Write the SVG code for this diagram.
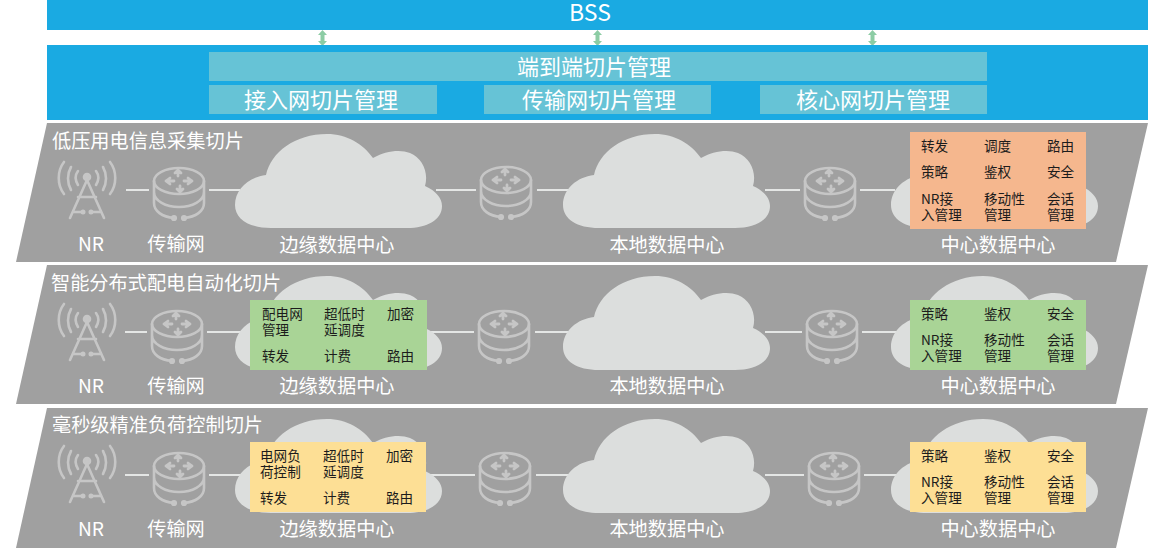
<svg xmlns="http://www.w3.org/2000/svg" xmlns:xlink="http://www.w3.org/1999/xlink" width="1156" height="553" viewBox="0 0 1156 553">
<style>
text{font-family:"Noto Sans CJK SC","Noto Sans",sans-serif}
.w{fill:#fff;text-anchor:middle}
.l{font-size:19.2px}
.t{fill:#fff;font-size:19.2px}
.m{font-size:22px}
.k{fill:#1c1c1c;font-size:13.6px}
.ln{stroke:#e4e6e5;stroke-width:2;fill:none}
.ic{stroke:#c6c6c6;stroke-width:2.600;fill:none;stroke-linecap:round;stroke-linejoin:round}
.band{fill:#a0a0a0}
.cloud{fill:#dcdedd}
.pane{fill:#66c3d6}
.blue{fill:#1aaae2}
</style>
<defs>
<path id="cl" class="cloud" d="M36 94C14 94 0 85 0 71C0 55 14 43 31 41C36 18 60 0 92 0C112 0 128 10 138 24C150 17 165 15 175 19C187 24 194 38 190 52C201 57 207 64 207 72C207 86 192 94 172 94Z"/>
<g id="ant" class="ic">
<circle cx="31" cy="15" r="3" fill="#c6c6c6"/>
<path d="M31 18L14 56M31 18L48 56M22 35H40M18 50H27M35 50H44"/>
<path d="M22 9C19 13 19 18 22 23M40 9C43 13 43 18 40 23M15 5C11 12 11 21 15 28M47 5C51 12 51 21 47 28M8 0C1 9 1 23 8 32M54 0C61 9 61 23 54 32"/>
<circle cx="27" cy="50" r="1.200" fill="#c6c6c6"/><circle cx="35" cy="50" r="1.200" fill="#c6c6c6"/>
</g>
<g id="rt" class="ic">
<ellipse cx="26" cy="14" rx="25" ry="13"/>
<path d="M1 14V36C1 44 9 50 21 51M51 14V36C51 44 43 50 31 51M1 25C1 34 13 40 26 40C39 40 51 34 51 25"/>
<circle cx="21" cy="51" r="1.800" fill="#c6c6c6"/><circle cx="31" cy="51" r="1.800" fill="#c6c6c6"/>
<path stroke-width="2.800" d="M13 14H21M13 14L17 11M13 14L17 17M31 14H39M39 14L35 11M39 14L35 17M25 9V4M22 6L25 3L28 6M27 19V24M24 22L27 25L30 22"/>
</g>
<path id="dbl" fill="#8ccca4" d="M0 5L4.500 0L9 5H6.500V11H9L4.500 16L0 11H2.500V5Z"/>
</defs>

<g id="bss"><rect class="blue" x="47" y="0" width="1101" height="30"/><text class="w" x="590" y="21" font-size="23">BSS</text></g>
<g id="connectors-top"><use xlink:href="#dbl" href="#dbl" x="318" y="30"/><use xlink:href="#dbl" href="#dbl" x="593" y="30"/><use xlink:href="#dbl" href="#dbl" x="868" y="30"/></g>
<g id="mgmt">
<rect class="blue" x="47" y="45" width="1101" height="75"/>
<g id="e2e"><rect class="pane" x="209" y="52" width="778" height="29"/><text class="w m" x="594" y="75">端到端切片管理</text></g>
<g id="ran"><rect class="pane" x="209" y="85" width="228" height="29"/><text class="w m" x="321" y="108">接入网切片管理</text></g>
<g id="tn"><rect class="pane" x="484" y="85" width="227" height="29"/><text class="w m" x="599" y="108">传输网切片管理</text></g>
<g id="cn"><rect class="pane" x="760" y="85" width="227" height="29"/><text class="w m" x="873" y="108">核心网切片管理</text></g>
</g>

<g id="bands">
<polygon class="band" points="47,123 1148,123 1116,262 16,262"/>
<polygon class="band" points="47,265 1148,265 1116,404 16,404"/>
<polygon class="band" points="47,408 1148,408 1116,548 16,548"/>
</g>

<g id="connectors" class="ln">
<path d="M126 190H149M209 190H240M436 190H476M537 190H570M765 190H800M860 190H895"/>
<path d="M125 332H147M207 332H250M427 332H474M535 332H570M765 332H802M862 332H910"/>
<path d="M125 475H149M209 475H250M425 475H475M536 475H570M765 475H804M864 475H910"/>
</g>

<g id="slice1">
<text class="t" x="52" y="148">低压用电信息采集切片</text>
<g id="s1-nr"><use xlink:href="#ant" href="#ant" x="56" y="162"/><text class="w l" x="91" y="251">NR</text></g>
<g id="s1-tn"><use xlink:href="#rt" href="#rt" x="153" y="167"/><text class="w l" x="176" y="251">传输网</text></g>
<g id="s1-edge"><use xlink:href="#cl" href="#cl" x="235" y="134"/><text class="w l" x="337" y="252">边缘数据中心</text></g>
<g id="s1-r2"><use xlink:href="#rt" href="#rt" x="480" y="166"/></g>
<g id="s1-local"><use xlink:href="#cl" href="#cl" x="563" y="134"/><text class="w l" x="667" y="252">本地数据中心</text></g>
<g id="s1-r3"><use xlink:href="#rt" href="#rt" x="804" y="167"/></g>
<g id="s1-core"><use xlink:href="#cl" href="#cl" x="891" y="134"/>
<rect x="910" y="132" width="176" height="97" fill="#f5b78e"/>
<g class="k"><text x="921" y="151">转发</text><text x="984" y="151">调度</text><text x="1047" y="151">路由</text><text x="921" y="177">策略</text><text x="984" y="177">鉴权</text><text x="1047" y="177">安全</text><text x="921" y="204">NR接</text><text x="921" y="220">入管理</text><text x="984" y="204">移动性</text><text x="984" y="220">管理</text><text x="1047" y="204">会话</text><text x="1047" y="220">管理</text></g>
<text class="w l" x="998" y="252">中心数据中心</text></g>
</g>

<g id="slice2">
<text class="t" x="51" y="290">智能分布式配电自动化切片</text>
<g id="s2-nr"><use xlink:href="#ant" href="#ant" x="56" y="304"/><text class="w l" x="91" y="393">NR</text></g>
<g id="s2-tn"><use xlink:href="#rt" href="#rt" x="151" y="310"/><text class="w l" x="176" y="393">传输网</text></g>
<g id="s2-edge"><use xlink:href="#cl" href="#cl" x="235" y="276"/>
<rect x="250" y="300" width="177" height="70" fill="#a9d496"/>
<g class="k"><text x="262" y="319">配电网</text><text x="262" y="335">管理</text><text x="324" y="319">超低时</text><text x="324" y="335">延调度</text><text x="387" y="319">加密</text><text x="262" y="361">转发</text><text x="324" y="361">计费</text><text x="387" y="361">路由</text></g>
<text class="w l" x="337" y="393">边缘数据中心</text></g>
<g id="s2-r2"><use xlink:href="#rt" href="#rt" x="478" y="310"/></g>
<g id="s2-local"><use xlink:href="#cl" href="#cl" x="563" y="276"/><text class="w l" x="667" y="393">本地数据中心</text></g>
<g id="s2-r3"><use xlink:href="#rt" href="#rt" x="806" y="310"/></g>
<g id="s2-core"><use xlink:href="#cl" href="#cl" x="891" y="276"/>
<rect x="910" y="300" width="176" height="70" fill="#a9d496"/>
<g class="k"><text x="921" y="319">策略</text><text x="984" y="319">鉴权</text><text x="1047" y="319">安全</text><text x="921" y="345">NR接</text><text x="921" y="361">入管理</text><text x="984" y="345">移动性</text><text x="984" y="361">管理</text><text x="1047" y="345">会话</text><text x="1047" y="361">管理</text></g>
<text class="w l" x="998" y="393">中心数据中心</text></g>
</g>

<g id="slice3">
<text class="t" x="52" y="432">毫秒级精准负荷控制切片</text>
<g id="s3-nr"><use xlink:href="#ant" href="#ant" x="56" y="446"/><text class="w l" x="91" y="536">NR</text></g>
<g id="s3-tn"><use xlink:href="#rt" href="#rt" x="153" y="452"/><text class="w l" x="176" y="536">传输网</text></g>
<g id="s3-edge"><use xlink:href="#cl" href="#cl" x="235" y="419"/>
<rect x="250" y="442" width="176" height="70" fill="#fddf95"/>
<g class="k"><text x="260" y="461">电网负</text><text x="260" y="477">荷控制</text><text x="323" y="461">超低时</text><text x="323" y="477">延调度</text><text x="386" y="461">加密</text><text x="260" y="503">转发</text><text x="323" y="503">计费</text><text x="386" y="503">路由</text></g>
<text class="w l" x="337" y="536">边缘数据中心</text></g>
<g id="s3-r2"><use xlink:href="#rt" href="#rt" x="479" y="452"/></g>
<g id="s3-local"><use xlink:href="#cl" href="#cl" x="563" y="419"/><text class="w l" x="667" y="536">本地数据中心</text></g>
<g id="s3-r3"><use xlink:href="#rt" href="#rt" x="808" y="452"/></g>
<g id="s3-core"><use xlink:href="#cl" href="#cl" x="891" y="419"/>
<rect x="910" y="442" width="176" height="70" fill="#fddf95"/>
<g class="k"><text x="921" y="461">策略</text><text x="984" y="461">鉴权</text><text x="1047" y="461">安全</text><text x="921" y="487">NR接</text><text x="921" y="503">入管理</text><text x="984" y="487">移动性</text><text x="984" y="503">管理</text><text x="1047" y="487">会话</text><text x="1047" y="503">管理</text></g>
<text class="w l" x="998" y="536">中心数据中心</text></g>
</g>
</svg>
